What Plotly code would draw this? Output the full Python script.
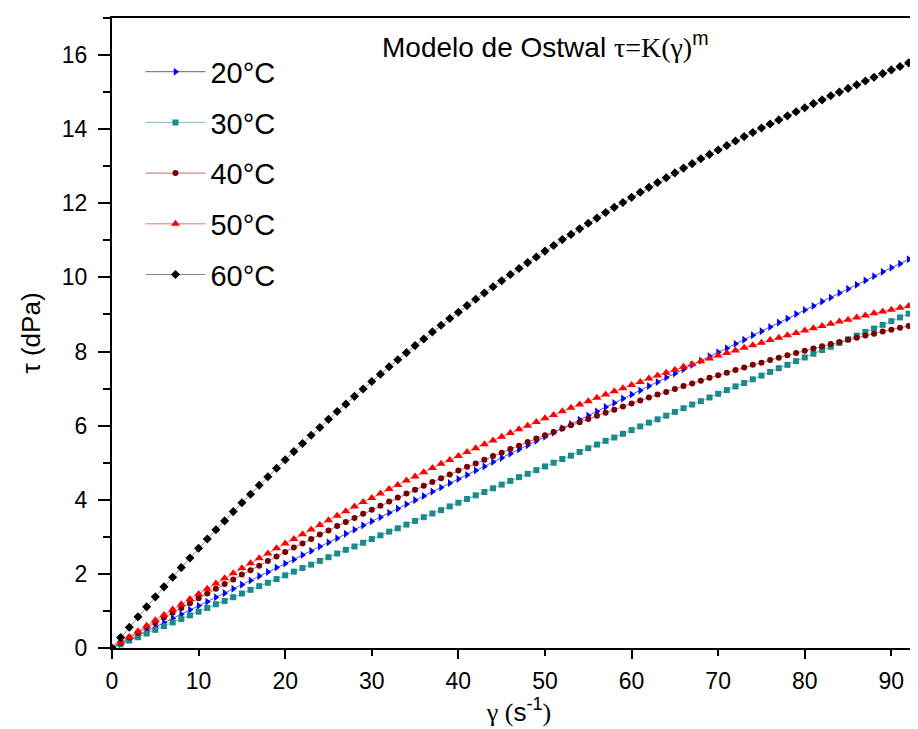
import plotly.graph_objects as go

# shear rate gamma (s^-1)
gamma = list(range(0, 94))

# shear stress tau (dPa)
tau_20 = [0, 0.11, 0.23, 0.34, 0.46, 0.57, 0.68, 0.80, 0.91, 1.03, 1.14, 1.25, 1.37, 1.48, 1.60, 1.71, 1.82, 1.94, 2.05, 2.17,
          2.28, 2.39, 2.51, 2.62, 2.74, 2.85, 2.96, 3.08, 3.19, 3.31, 3.42, 3.53, 3.65, 3.76, 3.88, 3.99, 4.10, 4.22, 4.33, 4.45,
          4.56, 4.67, 4.79, 4.90, 5.02, 5.13, 5.24, 5.36, 5.47, 5.59, 5.70, 5.81, 5.93, 6.04, 6.16, 6.27, 6.38, 6.50, 6.61, 6.73,
          6.84, 6.95, 7.07, 7.18, 7.30, 7.41, 7.52, 7.64, 7.75, 7.87, 7.98, 8.09, 8.21, 8.32, 8.44, 8.55, 8.66, 8.78, 8.89, 9.01,
          9.12, 9.23, 9.35, 9.46, 9.58, 9.69, 9.80, 9.92, 10.03, 10.15, 10.26, 10.37, 10.49, 10.60]

tau_30 = [0, 0.10, 0.20, 0.29, 0.39, 0.49, 0.59, 0.69, 0.78, 0.88, 0.98, 1.08, 1.18, 1.27, 1.37, 1.47, 1.57, 1.67, 1.76, 1.86,
          1.96, 2.06, 2.16, 2.25, 2.35, 2.45, 2.55, 2.65, 2.74, 2.84, 2.94, 3.04, 3.14, 3.23, 3.33, 3.43, 3.53, 3.63, 3.72, 3.82,
          3.92, 4.02, 4.12, 4.21, 4.31, 4.41, 4.51, 4.61, 4.70, 4.80, 4.90, 5.00, 5.10, 5.19, 5.29, 5.39, 5.49, 5.59, 5.68, 5.78,
          5.88, 5.98, 6.08, 6.17, 6.27, 6.37, 6.47, 6.57, 6.66, 6.76, 6.86, 6.96, 7.06, 7.15, 7.25, 7.35, 7.45, 7.55, 7.64, 7.74,
          7.84, 7.94, 8.04, 8.13, 8.23, 8.33, 8.43, 8.53, 8.62, 8.72, 8.82, 8.92, 9.02, 9.11]

tau_40 = [0, 0.14, 0.28, 0.41, 0.55, 0.68, 0.82, 0.95, 1.08, 1.21, 1.34, 1.47, 1.60, 1.73, 1.85, 1.98, 2.10, 2.22, 2.35, 2.47,
          2.59, 2.71, 2.82, 2.94, 3.06, 3.17, 3.29, 3.40, 3.51, 3.62, 3.73, 3.84, 3.95, 4.06, 4.17, 4.27, 4.38, 4.48, 4.58, 4.68,
          4.79, 4.89, 4.98, 5.08, 5.18, 5.27, 5.37, 5.46, 5.56, 5.65, 5.74, 5.83, 5.92, 6.01, 6.09, 6.18, 6.27, 6.35, 6.43, 6.52,
          6.60, 6.68, 6.76, 6.84, 6.91, 6.99, 7.07, 7.14, 7.21, 7.29, 7.36, 7.43, 7.50, 7.57, 7.64, 7.70, 7.77, 7.83, 7.90, 7.96,
          8.02, 8.08, 8.14, 8.20, 8.26, 8.32, 8.37, 8.43, 8.48, 8.54, 8.59, 8.64, 8.69, 8.74]

tau_50 = [0, 0.15, 0.30, 0.45, 0.60, 0.75, 0.89, 1.04, 1.18, 1.32, 1.46, 1.60, 1.74, 1.88, 2.02, 2.15, 2.29, 2.42, 2.55, 2.69,
          2.82, 2.94, 3.07, 3.20, 3.32, 3.45, 3.57, 3.69, 3.82, 3.94, 4.05, 4.17, 4.29, 4.40, 4.52, 4.63, 4.74, 4.86, 4.97, 5.07,
          5.18, 5.29, 5.39, 5.50, 5.60, 5.70, 5.80, 5.90, 6.00, 6.10, 6.20, 6.29, 6.39, 6.48, 6.57, 6.66, 6.75, 6.84, 6.93, 7.01,
          7.10, 7.18, 7.27, 7.35, 7.43, 7.51, 7.59, 7.66, 7.74, 7.81, 7.89, 7.96, 8.03, 8.10, 8.17, 8.24, 8.31, 8.37, 8.44, 8.50,
          8.57, 8.63, 8.69, 8.75, 8.81, 8.86, 8.92, 8.97, 9.03, 9.08, 9.13, 9.18, 9.23, 9.28]

tau_60 = [0, 0.28, 0.56, 0.84, 1.11, 1.38, 1.65, 1.91, 2.17, 2.43, 2.69, 2.94, 3.19, 3.43, 3.68, 3.92, 4.15, 4.39, 4.62, 4.85,
          5.08, 5.30, 5.52, 5.74, 5.95, 6.17, 6.38, 6.58, 6.79, 6.99, 7.19, 7.39, 7.59, 7.78, 7.97, 8.16, 8.34, 8.53, 8.71, 8.89,
          9.06, 9.24, 9.41, 9.58, 9.75, 9.91, 10.08, 10.24, 10.40, 10.55, 10.71, 10.86, 11.02, 11.16, 11.31, 11.46, 11.60, 11.75, 11.89, 12.02,
          12.16, 12.30, 12.43, 12.56, 12.69, 12.82, 12.95, 13.07, 13.20, 13.32, 13.44, 13.56, 13.68, 13.80, 13.91, 14.03, 14.14, 14.25, 14.36, 14.47,
          14.58, 14.69, 14.79, 14.90, 15.00, 15.10, 15.20, 15.30, 15.40, 15.50, 15.60, 15.69, 15.79, 15.88]

series_names = ["20°C", "30°C", "40°C", "50°C", "60°C"]
series_values = [tau_20, tau_30, tau_40, tau_50, tau_60]
marker_colors = ["#0000FF", "#1B8A8A", "#7A0000", "#FF0000", "#000000"]
line_colors = ["#3030B0", "#5AA8A8", "#A05050", "#E05050", "#707070"]
symbols = ["triangle-right", "square", "circle", "triangle-up", "diamond"]
sizes = [7, 6, 6, 8, 7]

x_ticks = [0, 10, 20, 30, 40, 50, 60, 70, 80, 90]
y_ticks = [0, 2, 4, 6, 8, 10, 12, 14, 16]

ARIAL = "Liberation Sans, Arial, sans-serif"

fig = go.Figure()
for i, (name, vals) in enumerate(zip(series_names, series_values)):
    fig.add_trace(go.Scatter(
        x=gamma, y=vals, name=name, mode="lines+markers",
        legendgroup=name,
        line=dict(color=line_colors[i], width=0.8),
        marker=dict(symbol=symbols[i], size=sizes[i], color=marker_colors[i], line=dict(width=0)),
    ))

# empty trace on the overlay axis carrying the long major ticks
fig.add_trace(go.Scatter(x=[], y=[], xaxis="x2", showlegend=False, hoverinfo="skip"))

fig.update_layout(
    width=918, height=729,
    margin=dict(l=104, r=0, t=10, b=89),
    paper_bgcolor="white", plot_bgcolor="white",
    font=dict(family=ARIAL, color="black", size=23),
    showlegend=True,
    legend=dict(x=0.035, y=0.955, xanchor="left", yanchor="top",
                font=dict(family=ARIAL, size=29, color="black"),
                bgcolor="rgba(0,0,0,0)", itemwidth=60, tracegroupgap=10,
                itemsizing="trace"),
    xaxis=dict(range=[0, 94], tickmode="array", tickvals=x_ticks,
               ticks="outside", ticklen=6, tickwidth=2, tickcolor="black",
               showline=True, linewidth=2, linecolor="black", mirror=True,
               showgrid=False, zeroline=False,
               tickfont=dict(family=ARIAL, size=23), ticklabelstandoff=5,
               title=dict(text="<span style=\"font-family:Liberation Serif\">γ (</span>s<sup>-1</sup><span style=\"font-family:Liberation Serif\">)</span>",
                          font=dict(family=ARIAL, size=26), standoff=6)),
    xaxis2=dict(range=[0, 94], overlaying="x", anchor="y", side="bottom",
                tickmode="linear", tick0=0, dtick=20,
                ticks="outside", ticklen=10, tickwidth=2, tickcolor="black",
                showticklabels=False, showline=False, showgrid=False, zeroline=False),
    yaxis=dict(range=[0, 17], tickmode="array", tickvals=y_ticks,
               ticks="outside", ticklen=12, tickwidth=2, tickcolor="black",
               minor=dict(dtick=1, tick0=0, ticks="outside", ticklen=7, tickwidth=2, tickcolor="black", showgrid=False),
               showline=True, linewidth=2, linecolor="black", mirror=False,
               showgrid=False, zeroline=False,
               tickfont=dict(family=ARIAL, size=23), ticklabelstandoff=6,
               title=dict(text="τ (dPa)", font=dict(family=ARIAL, size=26), standoff=14)),
    annotations=[dict(
        xref="paper", yref="paper", x=0.329, y=0.957, xanchor="left", yanchor="middle",
        text="Modelo de Ostwal <span style=\"font-family:Liberation Serif\">τ=K(γ)</span><sup>m</sup>",
        showarrow=False, font=dict(family=ARIAL, size=28, color="black"),
    )],
)

fig.write_html("out.html")
